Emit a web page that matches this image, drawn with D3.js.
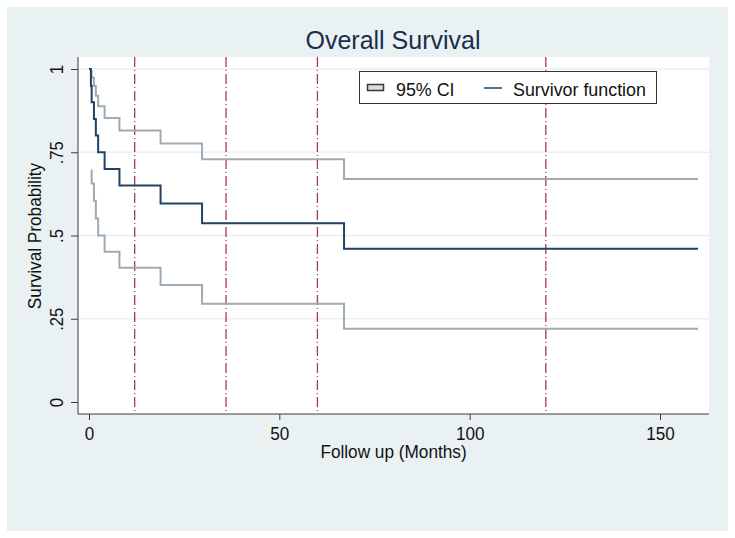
<!DOCTYPE html>
<html>
<head>
<meta charset="utf-8">
<script src="https://cdn.jsdelivr.net/npm/d3@7"></script>
<style>
  html, body { margin: 0; padding: 0; background: #ffffff; }
  svg { display: block; }
  text { font-family: "Liberation Sans", Arial, sans-serif; }
</style>
</head>
<body>
<svg id="chart" width="735" height="538"></svg>
<script>
// ---- Data ----
const times     = [0, 0.5, 0.7, 1.3, 1.8, 2.4, 4.1, 8.0, 18.8, 29.7, 67.0];
const survival  = [1, 0.95, 0.90, 0.85, 0.80, 0.75, 0.70, 0.65, 0.596, 0.537, 0.460];
const upperCI   = [null, 0.993, 0.974, 0.949, 0.920, 0.888, 0.853, 0.815, 0.776, 0.729, 0.670];
const lowerCI   = [null, 0.695, 0.656, 0.604, 0.551, 0.500, 0.451, 0.403, 0.351, 0.295, 0.220];
const endTime   = 160;
const refLines  = [12, 36, 60, 120];
const xTicks    = [0, 50, 100, 150];
const yTicks    = [0, 0.25, 0.5, 0.75, 1];
const yTickLabels = ["0", ".25", ".5", ".75", "1"];
const titleText = "Overall Survival";
const xTitle    = "Follow up (Months)";
const yTitle    = "Survival Probability";
const legendLabels = ["95% CI", "Survivor function"];

// ---- Layout ----
const svg = d3.select("#chart");
const plot = { left: 78, right: 709, top: 57, bottom: 414 };
const x = d3.scaleLinear().domain([0, 150]).range([89, 660]);
const y = d3.scaleLinear().domain([0, 1]).range([402, 69]);

const colBg = "#e9f1f3";
const colSurv = "#1f4266";
const colCI = "#9eaab4";
const colRef = "#ad3561";

// outer background
svg.append("rect").attr("x", 7).attr("y", 7).attr("width", 721).attr("height", 524).attr("fill", colBg);
// plot region
svg.append("rect").attr("x", plot.left).attr("y", plot.top)
  .attr("width", plot.right - plot.left).attr("height", plot.bottom - plot.top).attr("fill", "#ffffff");

// gridlines
svg.append("g").selectAll("line").data(yTicks.filter(d => d > 0)).join("line")
  .attr("x1", plot.left).attr("x2", plot.right)
  .attr("y1", d => y(d)).attr("y2", d => y(d))
  .attr("stroke", "#e8f0f2").attr("stroke-width", 1.5);

// reference dashed lines
svg.append("g").selectAll("line").data(refLines).join("line")
  .attr("x1", d => x(d)).attr("x2", d => x(d))
  .attr("y1", plot.top).attr("y2", plot.bottom)
  .attr("stroke", colRef).attr("stroke-width", 1.3)
  .attr("stroke-dasharray", "10,3,1,3");

// step curves
const stepLine = d3.line().x(d => x(d[0])).y(d => y(d[1])).curve(d3.curveStepAfter);
const mk = arr => {
  const pts = [];
  arr.forEach((v, i) => { if (v !== null) pts.push([times[i], v]); });
  pts.push([endTime, arr[arr.length - 1]]);
  return pts;
};
svg.append("defs").append("clipPath").attr("id", "clip")
  .append("rect").attr("x", plot.left).attr("y", plot.top)
  .attr("width", plot.right - plot.left).attr("height", plot.bottom - plot.top);
const gCurves = svg.append("g").attr("clip-path", "url(#clip)");
gCurves.append("path").datum(mk(upperCI)).attr("d", stepLine)
  .attr("fill", "none").attr("stroke", colCI).attr("stroke-width", 2);
gCurves.append("path").datum(mk(lowerCI)).attr("d", stepLine)
  .attr("fill", "none").attr("stroke", colCI).attr("stroke-width", 2);
gCurves.append("path").datum(mk(survival)).attr("d", stepLine)
  .attr("fill", "none").attr("stroke", colSurv).attr("stroke-width", 2);

// axes
const axisCol = "#3a3a3a";
const xAxis = d3.axisBottom(x).tickValues(xTicks).tickSize(6).tickPadding(5).tickFormat(d3.format("d"));
const gx = svg.append("g").attr("transform", `translate(0,${plot.bottom})`).call(xAxis);
gx.select(".domain").attr("d", `M${plot.left},0H${plot.right}`).attr("stroke", axisCol);
gx.selectAll(".tick line").attr("stroke", axisCol);
gx.selectAll(".tick text").attr("font-size", 19).attr("fill", "#111")
  .attr("font-family", "Liberation Sans, Arial, sans-serif")
  .attr("y", 12).attr("dy", "0.72em").attr("transform", "scale(0.9,1)");

const yAxis = d3.axisLeft(y).tickValues(yTicks).tickSize(7).tickFormat((d, i) => yTickLabels[i]);
const gy = svg.append("g").attr("transform", `translate(${plot.left},0)`).call(yAxis);
gy.select(".domain").attr("d", `M0,${plot.top}V${plot.bottom}`).attr("stroke", axisCol);
gy.selectAll(".tick line").attr("stroke", axisCol);
gy.selectAll(".tick text")
  .attr("font-size", 19).attr("fill", "#111").attr("font-family", "Liberation Sans, Arial, sans-serif")
  .attr("x", null).attr("dy", null)
  .attr("text-anchor", "middle")
  .attr("transform", "translate(-15,0) rotate(-90) scale(0.88,1)");

// titles
svg.append("text").attr("x", 393).attr("y", 49).attr("text-anchor", "middle")
  .attr("font-size", 25).attr("fill", "#1c2d4c").text(titleText);
svg.append("text").attr("transform", `translate(${(plot.left + plot.right) / 2},458) scale(0.93,1)`)
  .attr("text-anchor", "middle")
  .attr("font-size", 18.5).attr("fill", "#111").text(xTitle);
svg.append("text").attr("transform", "translate(41,236) rotate(-90) scale(0.93,1)").attr("text-anchor", "middle")
  .attr("font-size", 18.5).attr("fill", "#111").text(yTitle);

// legend
const lg = svg.append("g");
lg.append("rect").attr("x", 359.5).attr("y", 71.5).attr("width", 297).attr("height", 32)
  .attr("fill", "#ffffff").attr("stroke", "#333").attr("stroke-width", 1);
lg.append("rect").attr("x", 367.5).attr("y", 84.5).attr("width", 16).attr("height", 6)
  .attr("fill", "#d9dee3").attr("stroke", "#3a3a3a").attr("stroke-width", 1.5);
lg.append("text").attr("transform", "translate(396,96) scale(0.94,1)").attr("font-size", 19)
  .attr("fill", "#111").text(legendLabels[0]);
lg.append("line").attr("x1", 484).attr("x2", 502).attr("y1", 88).attr("y2", 88)
  .attr("stroke", colSurv).attr("stroke-width", 1.5);
lg.append("text").attr("transform", "translate(513,96) scale(0.94,1)").attr("font-size", 19)
  .attr("fill", "#111").text(legendLabels[1]);
</script>
</body>
</html>
